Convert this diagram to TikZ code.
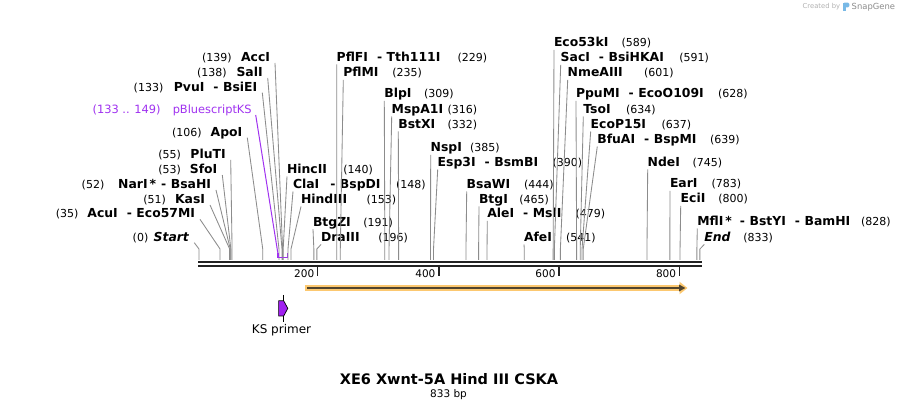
\documentclass[tikz,border=0pt]{standalone}
\usepackage{fontspec}
\setmainfont{DejaVu Sans}[ItalicFont={DejaVu Sans Oblique},BoldFont={DejaVu Sans Bold},BoldItalicFont={DejaVu Sans Bold Oblique}]
\usetikzlibrary{arrows.meta,calc}
\definecolor{cgray}{RGB}{140,140,140}
\definecolor{bb}{RGB}{34,34,34}
\definecolor{pur}{RGB}{160,50,240}
\definecolor{pfill}{RGB}{160,32,240}
\definecolor{orng}{RGB}{252,200,112}
\definecolor{odark}{RGB}{80,68,46}
\definecolor{logoblue}{RGB}{120,185,230}
\newcommand\dsh{\hspace{9pt}-\hspace{4.5pt}}
% left-side enzyme: id, bp, centre y, name right x, name, number right x, number
\newcommand\lenz[7]{%
  \coordinate (s#1) at ({199+0.6013*#2},260);
  \node[nm,anchor=base east] (n#1) at (#4,#3+4.4) {#5};
  \node[nb,anchor=base east] (b#1) at (#6,#3+4.4) {#7};
  \draw[cn] ([shift={(5pt,-1.6pt)}]n#1.base east) -- (s#1 |- elb) -- (s#1);
}
% right-side enzyme: id, bp, centre y, name left x, name, number left x, number
\newcommand\renz[7]{%
  \coordinate (s#1) at ({199+0.6013*#2},260);
  \node[nm,anchor=base west] (n#1) at (#4,#3+4.4) {#5};
  \node[nb,anchor=base west] (b#1) at (#6,#3+4.4) {#7};
  \draw[cn] ([yshift=-3.1pt]n#1.base west) -- (s#1 |- elb) -- (s#1);
}
\begin{document}
\begin{tikzpicture}[x=1pt,y=-1pt,
  nm/.style={inner sep=0pt,outer sep=0pt,font=\fontsize{12.4}{14}\selectfont\bfseries},
  nb/.style={inner sep=0pt,outer sep=0pt,font=\fontsize{11}{13}\selectfont},
  cn/.style={draw=cgray,line width=0.85pt},
  tk/.style={draw=bb,line width=1.8pt},
  tkl/.style={inner sep=0pt,outer sep=0pt,font=\fontsize{10.5}{12}\selectfont,anchor=base east},
  pl/.style={inner sep=0pt,outer sep=0pt,text=pur,font=\fontsize{11.4}{13}\selectfont}]
\useasboundingbox (0,0) rectangle (900,411);
\fill[white] (0,0) rectangle (900,411);
\coordinate (elb) at (0,249);

% watermark
\node[inner sep=0pt,anchor=base west,font=\fontsize{6.8}{8}\selectfont,text=black!30] (wm1) at (802.5,8.8) {Created by};
\fill[logoblue] (843,2.6) rectangle (845.6,10.6);
\fill[logoblue,rounded corners=1.4pt] (843,2.6) rectangle (849.3,7.4);
\node[inner sep=0pt,anchor=base west,font=\fontsize{8.4}{10}\selectfont,text=black!45] (wm2) at (851.5,9.4) {SnapGene};

% backbone
\coordinate (bbL) at (198.3,262.2);
\coordinate (bbR) at (701.7,262.2);
\draw[bb,line width=2.4pt] (bbL) -- (bbR);
\draw[bb,line width=2.2pt] ([yshift=-3.9pt]bbL) -- ([yshift=-3.9pt]bbR);

% ticks
\foreach \t/\x in {200/317.5,400/438.7,600/558.8,800/679.4}{
  \draw[tk] (\x,265) -- (\x,276);
  \node[tkl] (t\t) at (\x-3.3,278) {\t};
}

% left enzymes
\lenz{AccI}{139}{57}{270}{AccI}{231.7}{(139)}
\lenz{SalI}{138}{72}{262.7}{SalI}{226.7}{(138)}
\lenz{PvuI}{133}{86.7}{257.3}{PvuI\dsh BsiEI}{163.3}{(133)}
\lenz{ApoI}{106}{131.7}{242.3}{ApoI}{201.7}{(106)}
\lenz{PluTI}{55}{154}{225.7}{PluTI}{181}{(55)}
\lenz{SfoI}{53}{169}{217.3}{SfoI}{181}{(53)}
\lenz{NarI}{52}{184}{211}{NarI\hspace{2pt}*\hspace{5pt}-\hspace{4.5pt}BsaHI}{104.3}{(52)}
\lenz{KasI}{51}{199}{205}{KasI}{166}{(51)}
\lenz{AcuI}{35}{213.3}{195}{AcuI\dsh Eco57MI}{78.5}{(35)}
\lenz{Start}{0}{236.7}{189.3}{\textit{Start}}{148.3}{(0)}

% pBluescriptKS feature label
\node[pl,anchor=base east] (nKS) at (251.7,113.4) {pBluescriptKS};
\node[pl,anchor=base east] (bKS) at (160.7,113.4) {(133 .. 149)};
\coordinate (kL) at (278,257.5);
\coordinate (kR) at (287.3,257.5);
\draw[pur,line width=1pt] ([shift={(4pt,-1.6pt)}]nKS.base east) -- ($(kL)+(0,-3.5)$) -- (kL);
\draw[pur,line width=1.6pt] ($(kL)+(0,-4)$) -- (kL) -- (kR) -- ($(kR)+(0,-4)$);

% right enzymes
\renz{HincII}{140}{169}{287}{HincII}{343.3}{(140)}
\renz{ClaI}{148}{184}{293}{ClaI\hspace{11pt}-\hspace{4.5pt}BspDI}{396}{(148)}
\renz{HindIII}{153}{199}{301}{HindIII}{366.7}{(153)}
\renz{BtgZI}{191}{221.7}{313}{BtgZI}{363.3}{(191)}
\renz{DraIII}{196}{237}{321}{DraIII}{378.3}{(196)}
\renz{PflFI}{229}{57}{336.7}{PflFI\dsh Tth111I}{457.7}{(229)}
\renz{PflMI}{235}{72.3}{343.3}{PflMI}{392.3}{(235)}
\renz{BlpI}{309}{93.3}{384.3}{BlpI}{424}{(309)}
\renz{MspAI}{316}{109}{391.7}{MspA1I}{447.7}{(316)}
\renz{BstXI}{332}{124}{398.3}{BstXI}{447.7}{(332)}
\renz{NspI}{385}{147.3}{430.7}{NspI}{470}{(385)}
\renz{EspI}{390}{162}{437.7}{Esp3I\dsh BsmBI}{552.7}{(390)}
\renz{BsaWI}{444}{184}{466.7}{BsaWI}{524}{(444)}
\renz{BtgI}{465}{199}{479}{BtgI}{519.3}{(465)}
\renz{AleI}{479}{213.3}{487.3}{AleI\dsh MslI}{575.7}{(479)}
\renz{AfeI}{541}{237}{524}{AfeI}{566}{(541)}
\renz{EcoKI}{589}{42.3}{554}{Eco53kI}{621.7}{(589)}
\renz{SacI}{591}{57.3}{560.7}{SacI\dsh BsiHKAI}{679.3}{(591)}
\renz{NmeAIII}{601}{72.3}{567.7}{NmeAIII}{644}{(601)}
\renz{PpuMI}{628}{93.3}{576}{PpuMI\dsh EcoO109I}{718}{(628)}
\renz{TsoI}{634}{109}{583.3}{TsoI}{626}{(634)}
\renz{EcoP}{637}{124}{590.7}{EcoP15I}{661.7}{(637)}
\renz{BfuAI}{639}{139}{597.3}{BfuAI\dsh BspMI}{710}{(639)}
\renz{NdeI}{745}{162}{647.7}{NdeI}{692.7}{(745)}
\renz{EarI}{783}{183.5}{670}{EarI}{711.7}{(783)}
\renz{EciI}{800}{198.5}{680.7}{EciI}{718.3}{(800)}
\renz{MflI}{828}{221}{697.3}{MflI\hspace{2pt}*\hspace{8pt}-\hspace{4.5pt}BstYI\hspace{9pt}-\hspace{4.5pt}BamHI}{861}{(828)}
\renz{End}{833}{237}{704.3}{\textit{End}}{743.3}{(833)}

% orange feature arrow
\coordinate (fa) at (305,288);
\coordinate (fb) at (687.5,288);
\draw[orng,line width=6pt,-{Triangle[length=8pt,width=12pt]}] (fa) -- (fb);
\draw[odark,line width=2pt,-{Triangle[length=6.5pt,width=6.5pt]}] ([xshift=2pt]fa) -- ([xshift=-2pt]fb);

% KS primer
\draw[black,line width=0.6pt] (283.7,295) -- (283.7,322);
\draw[black,fill=pfill,line width=0.7pt] (278.6,300.8) -- (283.7,300.8) -- (287.8,308.4) -- (283.7,316) -- (278.6,316) -- cycle;
\node[inner sep=0pt,anchor=base,font=\fontsize{12}{14}\selectfont] (ksl) at (281.5,334) {KS primer};

% title
\node[inner sep=0pt,anchor=base,font=\fontsize{14.5}{17}\selectfont\bfseries] (title) at (449,385) {XE6 Xwnt-5A Hind III CSKA};
\node[inner sep=0pt,anchor=base,font=\fontsize{10.5}{12}\selectfont] (len) at (448.5,397.5) {833 bp};
\end{tikzpicture}
\end{document}
